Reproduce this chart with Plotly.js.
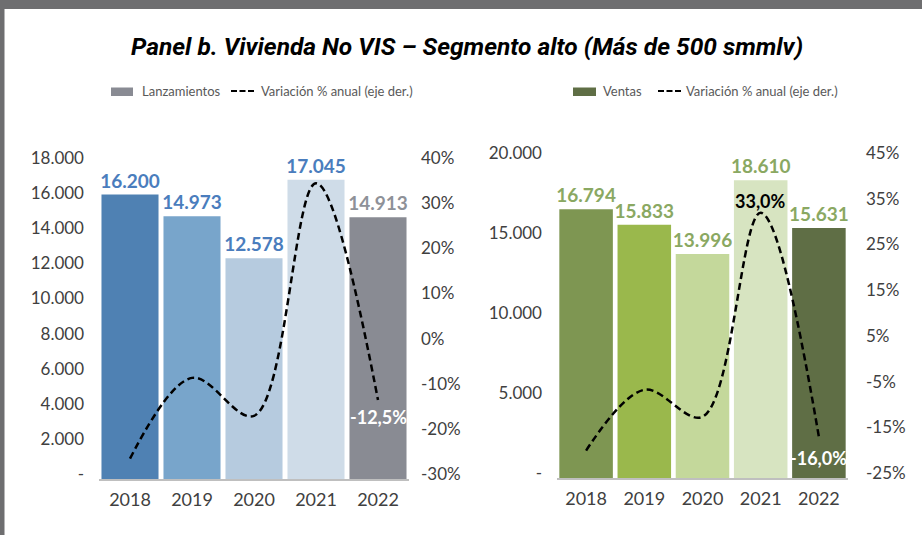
<!DOCTYPE html>
<html>
<head>
<meta charset="utf-8">
<script src="https://cdn.plot.ly/plotly-3.0.1.min.js"></script>
<style>html,body{margin:0;padding:0;background:#fff;}#chart{width:922px;height:535px;}</style>
</head>
<body>
<div id="chart"></div>
<script>
// ---- data ----
const years = ['2018', '2019', '2020', '2021', '2022'];
const lanzamientos = [16200, 14973, 12578, 17045, 14913];
const lanzVar = [-25.5, -7.6, -16.0, 35.5, -12.5];
const ventas = [16794, 15833, 13996, 18610, 15631];
const ventasVar = [-19.0, -5.7, -11.6, 33.0, -16.0];
const leftTicks = [0, 2000, 4000, 6000, 8000, 10000, 12000, 14000, 16000, 18000];
const leftTickText = ['-', '2.000', '4.000', '6.000', '8.000', '10.000', '12.000', '14.000', '16.000', '18.000'];
const leftPctTicks = [-30, -20, -10, 0, 10, 20, 30, 40];
const rightTicks = [0, 5000, 10000, 15000, 20000];
const rightTickText = ['-', '5.000', '10.000', '15.000', '20.000'];
const rightPctTicks = [-25, -15, -5, 5, 15, 25, 35, 45];
const title = 'Panel b. Vivienda No VIS – Segmento alto (Más de 500 smmlv)';
const legLeftBar = 'Lanzamientos';
const legRightBar = 'Ventas';
const legLine = 'Variación % anual (eje der.)';

// ---- styles ----
const lanzColors = ['#4f81b3', '#78a5cb', '#b6cbdf', '#cfdce8', '#898b93'];
const lanzTextColors = ['#4a7dbd', '#4a7dbd', '#4a7dbd', '#4a7dbd', '#8e9198'];
const ventasColors = ['#7e9652', '#9ab84c', '#c4d89b', '#d7e4c1', '#5f6e45'];
const ventasTextColor = '#8aa862';
const W = 922, H = 535;
const px = x => x / W;
const py = y => 1 - y / H;

function fmtThousands(v) {
  return String(v).replace(/\B(?=(\d{3})+(?!\d))/g, '.');
}
function fmtPct(v) {
  return v.toFixed(1).replace('.', ',') + '%';
}
const pctText = arr => arr.map(v => v + '%');

const tickFont = {family: 'Lato, sans-serif', size: 17, color: '#404040'};
const xTickFont = {family: 'Lato, sans-serif', size: 18, color: '#404040'};
const valFont = {family: 'Lato, sans-serif', size: 19, weight: 700};
const legFont = {family: 'Lato, sans-serif', size: 13, color: '#595959'};
const lineLblFont = {family: 'Lato, sans-serif', size: 18, weight: 700};

const traces = [
  {
    type: 'bar', x: years, y: lanzamientos, xaxis: 'x', yaxis: 'y',
    marker: {color: lanzColors},
    text: lanzamientos.map(fmtThousands), textposition: 'outside',
    textfont: Object.assign({}, valFont, {color: lanzTextColors}),
    constraintext: 'none', cliponaxis: false, hoverinfo: 'skip', showlegend: false
  },
  {
    type: 'scatter', mode: 'lines', x: years, y: lanzVar, xaxis: 'x', yaxis: 'y2',
    line: {color: '#000', width: 2.5, dash: '7px,4px', shape: 'spline', smoothing: 1},
    cliponaxis: false, hoverinfo: 'skip', showlegend: false
  },
  {
    type: 'bar', x: years, y: ventas, xaxis: 'x2', yaxis: 'y3',
    marker: {color: ventasColors},
    text: ventas.map(fmtThousands), textposition: 'outside',
    textfont: Object.assign({}, valFont, {color: ventasTextColor}),
    constraintext: 'none', cliponaxis: false, hoverinfo: 'skip', showlegend: false
  },
  {
    type: 'scatter', mode: 'lines', x: years, y: ventasVar, xaxis: 'x2', yaxis: 'y4',
    line: {color: '#000', width: 2.5, dash: '7px,4px', shape: 'spline', smoothing: 1},
    cliponaxis: false, hoverinfo: 'skip', showlegend: false
  }
];

const xCommon = {
  type: 'category', categoryorder: 'array', categoryarray: years,
  range: [-0.5, years.length - 0.5], autorange: false,
  showgrid: false, zeroline: false, showline: true,
  linecolor: '#bfbfbf', linewidth: 1.5, ticks: '', tickfont: xTickFont,
  ticklabelstandoff: 4, fixedrange: true
};
const yCommon = {
  showgrid: false, zeroline: false, showline: false, ticks: '', autorange: false,
  tickfont: tickFont, tickmode: 'array', fixedrange: true, ticklabelshift: -5
};

const layout = {
  width: W, height: H,
  margin: {l: 0, r: 0, t: 0, b: 0},
  paper_bgcolor: '#fff', plot_bgcolor: 'rgba(0,0,0,0)',
  bargap: 0.08,
  showlegend: false,
  title: {
    text: title, x: px(467), xanchor: 'center', y: py(46), yanchor: 'middle',
    font: {family: 'Roboto, sans-serif', size: 24.5, weight: 700, style: 'italic', color: '#000'}
  },
  xaxis: Object.assign({}, xCommon, {domain: [px(99), px(409)], anchor: 'y'}),
  yaxis: Object.assign({}, yCommon, {
    domain: [py(479), py(163)], range: [0, 18000], anchor: 'x',
    tickvals: leftTicks, ticktext: leftTickText, ticklabelstandoff: 14
  }),
  yaxis2: Object.assign({}, yCommon, {
    domain: [py(479), py(163)], range: [-30, 40], anchor: 'x', overlaying: 'y', side: 'right',
    tickvals: leftPctTicks, ticktext: pctText(leftPctTicks), ticklabelstandoff: 11
  }),
  xaxis2: Object.assign({}, xCommon, {domain: [px(557), px(848)], anchor: 'y3'}),
  yaxis3: Object.assign({}, yCommon, {
    domain: [py(478), py(158)], range: [0, 20000], anchor: 'x2',
    tickvals: rightTicks, ticktext: rightTickText, ticklabelstandoff: 14
  }),
  yaxis4: Object.assign({}, yCommon, {
    domain: [py(478), py(158)], range: [-25, 45], anchor: 'x2', overlaying: 'y3', side: 'right',
    tickvals: rightPctTicks, ticktext: pctText(rightPctTicks), ticklabelstandoff: 17
  }),
  shapes: [
    // frame
    {type: 'rect', xref: 'paper', yref: 'paper', x0: 0, x1: 1, y0: py(9), y1: 1, fillcolor: '#6e6e70', line: {width: 0}, layer: 'above'},
    {type: 'rect', xref: 'paper', yref: 'paper', x0: 0, x1: px(4.5), y0: 0, y1: 1, fillcolor: '#6e6e70', line: {width: 0}, layer: 'above'},
    // left legend
    {type: 'rect', xref: 'paper', yref: 'paper', x0: px(111), x1: px(133), y0: py(96), y1: py(87.5), fillcolor: '#898b93', line: {width: 0}},
    {type: 'line', xref: 'paper', yref: 'paper', x0: px(231), x1: px(256), y0: py(91), y1: py(91), line: {color: '#000', width: 2, dash: '6px,2.5px'}},
    // right legend
    {type: 'rect', xref: 'paper', yref: 'paper', x0: px(573), x1: px(596), y0: py(96), y1: py(87.5), fillcolor: '#5f6e45', line: {width: 0}},
    {type: 'line', xref: 'paper', yref: 'paper', x0: px(658), x1: px(683), y0: py(91), y1: py(91), line: {color: '#000', width: 2, dash: '6px,2.5px'}}
  ],
  annotations: [
    {xref: 'paper', yref: 'paper', x: px(140), y: py(91), xanchor: 'left', yanchor: 'middle', showarrow: false,
     text: legLeftBar, font: legFont},
    {xref: 'paper', yref: 'paper', x: px(259), y: py(91), xanchor: 'left', yanchor: 'middle', showarrow: false,
     text: legLine, font: legFont},
    {xref: 'paper', yref: 'paper', x: px(601), y: py(91), xanchor: 'left', yanchor: 'middle', showarrow: false,
     text: legRightBar, font: legFont},
    {xref: 'paper', yref: 'paper', x: px(684), y: py(91), xanchor: 'left', yanchor: 'middle', showarrow: false,
     text: legLine, font: legFont},
    // line data labels
    {xref: 'x', yref: 'y2', x: 4, y: lanzVar[4], yshift: -17, showarrow: false,
     text: fmtPct(lanzVar[4]), font: Object.assign({}, lineLblFont, {color: '#fff'})},
    {xref: 'x2', yref: 'y4', x: 3, y: ventasVar[3], yshift: 12, showarrow: false,
     text: fmtPct(ventasVar[3]), font: Object.assign({}, lineLblFont, {color: '#000'})},
    {xref: 'x2', yref: 'y4', x: 4, y: ventasVar[4], yshift: -21, showarrow: false,
     text: fmtPct(ventasVar[4]), font: Object.assign({}, lineLblFont, {color: '#fff'})}
  ]
};

Plotly.newPlot('chart', traces, layout, {staticPlot: true, displayModeBar: false});
</script>
</body>
</html>
